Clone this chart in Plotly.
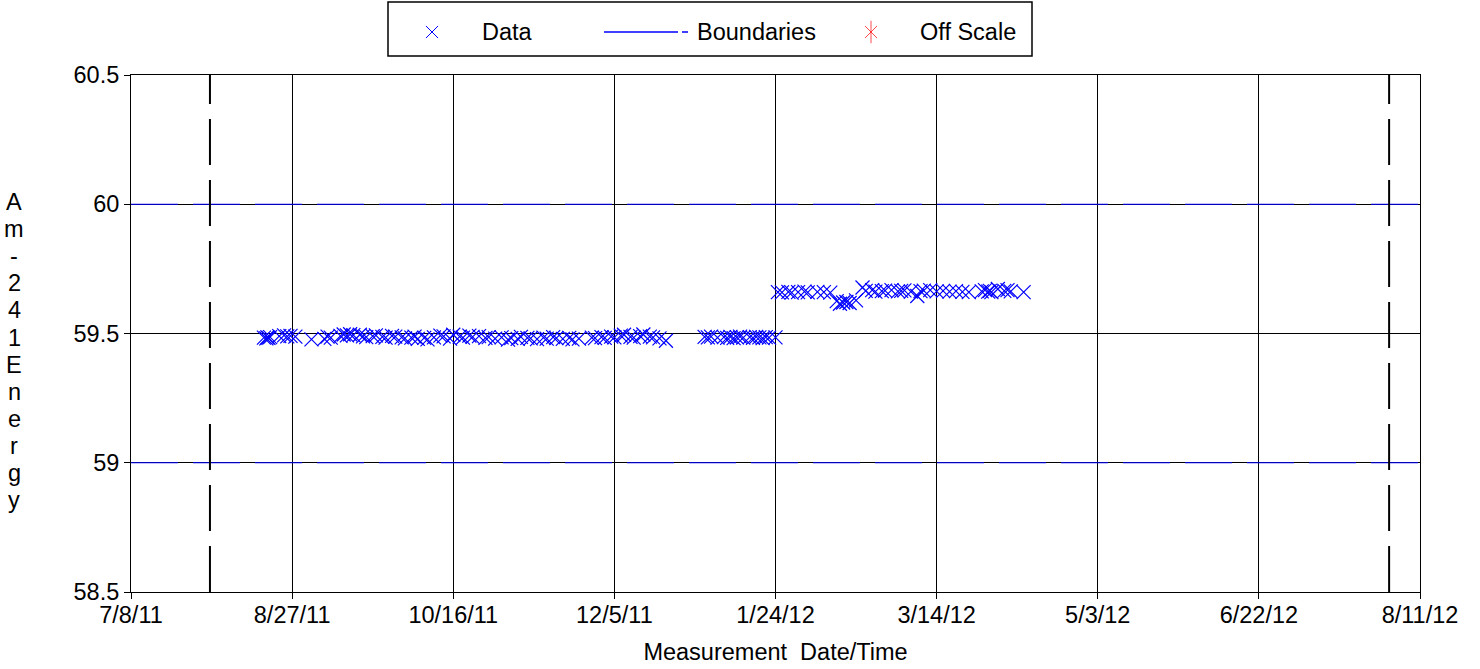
import plotly.graph_objects as go

# ---------------- data ----------------
data_dates = [
    "2011-08-18 06:00", "2011-08-19 00:00", "2011-08-19 08:00", "2011-08-19 16:00", "2011-08-20 04:00",
    "2011-08-23", "2011-08-24 12:00", "2011-08-25 12:00", "2011-08-26 12:00", "2011-08-28",
    "2011-09-02", "2011-09-06", "2011-09-07", "2011-09-08", "2011-09-11", "2011-09-12", "2011-09-13",
    "2011-09-14", "2011-09-15", "2011-09-17", "2011-09-18", "2011-09-19", "2011-09-21", "2011-09-22",
    "2011-09-24", "2011-09-25", "2011-09-27", "2011-09-28", "2011-09-30", "2011-10-01", "2011-10-03",
    "2011-10-04", "2011-10-05", "2011-10-07", "2011-10-08", "2011-10-10", "2011-10-12", "2011-10-13",
    "2011-10-15", "2011-10-16", "2011-10-18", "2011-10-19", "2011-10-21", "2011-10-22", "2011-10-24",
    "2011-10-26", "2011-10-27", "2011-10-29", "2011-10-31", "2011-11-02", "2011-11-03", "2011-11-05",
    "2011-11-06", "2011-11-08", "2011-11-09", "2011-11-11", "2011-11-13", "2011-11-14", "2011-11-16",
    "2011-11-17", "2011-11-19", "2011-11-21", "2011-11-22", "2011-11-24", "2011-11-28", "2011-11-29",
    "2011-12-01", "2011-12-02", "2011-12-04", "2011-12-05", "2011-12-07", "2011-12-08", "2011-12-10",
    "2011-12-11", "2011-12-13", "2011-12-14", "2011-12-16", "2011-12-17", "2011-12-19", "2011-12-21",
    "2012-01-02", "2012-01-03", "2012-01-04", "2012-01-06", "2012-01-08", "2012-01-09", "2012-01-10",
    "2012-01-11", "2012-01-12", "2012-01-13", "2012-01-14", "2012-01-16", "2012-01-17", "2012-01-18",
    "2012-01-19", "2012-01-20", "2012-01-21", "2012-01-22", "2012-01-24",
    "2012-01-24 18:00", "2012-01-26", "2012-01-28", "2012-01-29", "2012-01-31", "2012-02-02",
    "2012-02-03", "2012-02-06", "2012-02-08", "2012-02-10",
    "2012-02-12", "2012-02-13", "2012-02-14", "2012-02-15", "2012-02-16", "2012-02-18",
    "2012-02-20", "2012-02-21", "2012-02-23", "2012-02-24", "2012-02-26", "2012-02-27", "2012-02-29",
    "2012-03-02", "2012-03-03", "2012-03-04", "2012-03-06", "2012-03-08", "2012-03-09", "2012-03-10",
    "2012-03-12", "2012-03-14", "2012-03-16", "2012-03-18", "2012-03-20", "2012-03-22", "2012-03-24",
    "2012-03-28", "2012-03-29", "2012-03-30", "2012-03-30 12:00", "2012-03-31", "2012-04-02",
    "2012-04-04", "2012-04-05", "2012-04-06", "2012-04-10",
]
data_values = [
    59.484, 59.481, 59.485, 59.483, 59.486,
    59.490, 59.493, 59.489, 59.491, 59.488,
    59.477, 59.479, 59.488, 59.484, 59.491, 59.496, 59.493,
    59.497, 59.494, 59.495, 59.489, 59.486, 59.490, 59.493,
    59.487, 59.484, 59.491, 59.488, 59.485, 59.481, 59.484,
    59.488, 59.479, 59.483, 59.477, 59.485, 59.492, 59.489,
    59.480, 59.495, 59.488, 59.484, 59.492, 59.487, 59.490,
    59.483, 59.486, 59.480, 59.485, 59.476, 59.482, 59.479,
    59.487, 59.483, 59.481, 59.478, 59.484, 59.480, 59.486,
    59.482, 59.479, 59.483, 59.477, 59.480, 59.484, 59.482,
    59.486, 59.483, 59.488, 59.485, 59.492, 59.495, 59.487,
    59.484, 59.490, 59.496, 59.488, 59.485, 59.481, 59.472,
    59.487, 59.485, 59.488, 59.484, 59.486, 59.483, 59.487,
    59.482, 59.485, 59.488, 59.484, 59.486, 59.483, 59.487,
    59.485, 59.482, 59.486, 59.484, 59.485,
    59.660, 59.659, 59.661, 59.658, 59.660, 59.662,
    59.659, 59.661, 59.660, 59.658,
    59.625, 59.615, 59.620, 59.622, 59.618, 59.628,
    59.678, 59.665, 59.668, 59.662, 59.664, 59.666, 59.668,
    59.663, 59.665, 59.667, 59.662, 59.645, 59.664, 59.666,
    59.668, 59.663, 59.665, 59.662, 59.664, 59.661, 59.660,
    59.663, 59.668, 59.662, 59.665, 59.660, 59.672,
    59.665, 59.668, 59.663, 59.660,
]

boundary_values = [59.0, 60.0]
boundary_span = ["2011-07-08", "2012-08-11"]
window_dates = ["2011-08-01 12:00", "2012-08-01 10:00"]

x_tick_dates = ["2011-07-08", "2011-08-27", "2011-10-16", "2011-12-05", "2012-01-24",
                "2012-03-14", "2012-05-03", "2012-06-22", "2012-08-11"]
x_tick_labels = ["7/8/11", "8/27/11", "10/16/11", "12/5/11", "1/24/12",
                 "3/14/12", "5/3/12", "6/22/12", "8/11/12"]
y_tick_values = [58.5, 59.0, 59.5, 60.0, 60.5]
y_tick_labels = ["58.5", "59", "59.5", "60", "60.5"]
y_range = [58.5, 60.5]

legend_names = ["Data", "Boundaries", "Off Scale"]
y_title = "Am-241Energy"
x_title = "Measurement  Date/Time"

# ---------------- layout geometry (pixels) ----------------
W, H = 1480, 669
L, R, B = 131, 60, 77
PW, PH = W - L - R, H - B          # plot region (top margin 0)
PLOT_TOP = 75                      # main axes top edge in pixels
FONT = "Liberation Sans, Arial, sans-serif"
FS = 23.5
BLUE = "#0000ff"
RED = "#ff0000"


def px_x(p):
    return (p - L) / PW


def px_y(p):
    return (PH - p) / PH


fig = go.Figure()

# data
fig.add_trace(go.Scatter(
    x=data_dates, y=data_values, mode="markers", name=legend_names[0],
    marker=dict(symbol="x-thin", size=14, color=BLUE, line=dict(width=1.2, color=BLUE)),
    showlegend=False,
))

# boundaries
for v in boundary_values:
    fig.add_trace(go.Scatter(
        x=boundary_span, y=[v, v], mode="lines", name=legend_names[1],
        line=dict(color=BLUE, width=1, dash="47px,15px"), showlegend=False, hoverinfo="skip",
    ))

# window lines
for d in window_dates:
    fig.add_trace(go.Scatter(
        x=[d, d], y=y_range, mode="lines",
        line=dict(color="black", width=2, dash="46px,15px"), showlegend=False, hoverinfo="skip",
    ))

# ---------------- custom legend (drawn in an overlay axis in pixel units) ----------------
LEG_Y = 32
fig.add_trace(go.Scatter(
    x=[432], y=[LEG_Y], xaxis="x2", yaxis="y2", mode="markers", showlegend=False, hoverinfo="skip",
    marker=dict(symbol="x-thin", size=12, color=BLUE, line=dict(width=1, color=BLUE)),
))
fig.add_trace(go.Scatter(
    x=[604, 678], y=[LEG_Y, LEG_Y], xaxis="x2", yaxis="y2", mode="lines", showlegend=False,
    hoverinfo="skip", line=dict(color=BLUE, width=1.5),
))
fig.add_trace(go.Scatter(
    x=[682, 688], y=[LEG_Y, LEG_Y], xaxis="x2", yaxis="y2", mode="lines", showlegend=False,
    hoverinfo="skip", line=dict(color=BLUE, width=1.5),
))
fig.add_trace(go.Scatter(
    x=[871, 871], y=[LEG_Y, LEG_Y], xaxis="x2", yaxis="y2", mode="markers", showlegend=False,
    hoverinfo="skip",
    marker=dict(symbol=["x-thin", "line-ns"], size=[12, 16], color=RED, line=dict(width=1, color=RED)),
))

annotations = []
for name, xp in zip(legend_names, [480, 695, 918]):
    annotations.append(dict(
        x=xp, y=LEG_Y, xref="x2", yref="y2", text=name, showarrow=False,
        xanchor="left", yanchor="middle", font=dict(family=FONT, size=FS, color="black"),
    ))

# vertical stacked y-axis title
letters = list(y_title)
top_c, step = 202, 27.1
for i, ch in enumerate(letters):
    annotations.append(dict(
        x=px_x(14), y=px_y(top_c + i * step), xref="paper", yref="paper", text=ch,
        showarrow=False, xanchor="center", yanchor="middle",
        font=dict(family=FONT, size=FS, color="black"),
    ))

shapes = [dict(
    type="rect", xref="x2", yref="y2", x0=388, x1=1032, y0=2, y1=56,
    line=dict(color="black", width=1.5), fillcolor="rgba(0,0,0,0)",
)]

fig.update_layout(
    width=W, height=H,
    margin=dict(l=L, r=R, t=0, b=B, autoexpand=False),
    paper_bgcolor="white", plot_bgcolor="white",
    font=dict(family=FONT, size=FS, color="black"),
    showlegend=False,
    xaxis=dict(
        type="date", range=[x_tick_dates[0], x_tick_dates[-1]],
        tickmode="array", tickvals=x_tick_dates, ticktext=x_tick_labels,
        showgrid=True, gridcolor="black", gridwidth=1,
        showline=True, linecolor="black", linewidth=1, mirror=True,
        ticks="outside", ticklen=6, tickcolor="black", ticklabelstandoff=-4,
        tickfont=dict(family=FONT, size=FS, color="black"),
        title=dict(text=x_title, font=dict(family=FONT, size=FS, color="black"), standoff=16),
        automargin=False, zeroline=False, domain=[0, 1],
    ),
    yaxis=dict(
        range=y_range, tickmode="array", tickvals=y_tick_values, ticktext=y_tick_labels,
        showgrid=True, gridcolor="black", gridwidth=1,
        showline=True, linecolor="black", linewidth=1, mirror=True,
        ticks="outside", ticklen=6, tickcolor="black",
        tickfont=dict(family=FONT, size=FS, color="black"),
        automargin=False, zeroline=False,
        domain=[0, (PH - PLOT_TOP) / PH],
    ),
    xaxis2=dict(range=[L, W - R], domain=[0, 1], anchor="y2", visible=False, fixedrange=True),
    yaxis2=dict(range=[60, 0], domain=[1 - 60 / PH, 1], anchor="x2", visible=False, fixedrange=True),
    annotations=annotations,
    shapes=shapes,
)

fig.write_html(
    "out.html",
    config={"displayModeBar": False, "staticPlot": True},
    post_script="document.body.style.margin='0';",
)
